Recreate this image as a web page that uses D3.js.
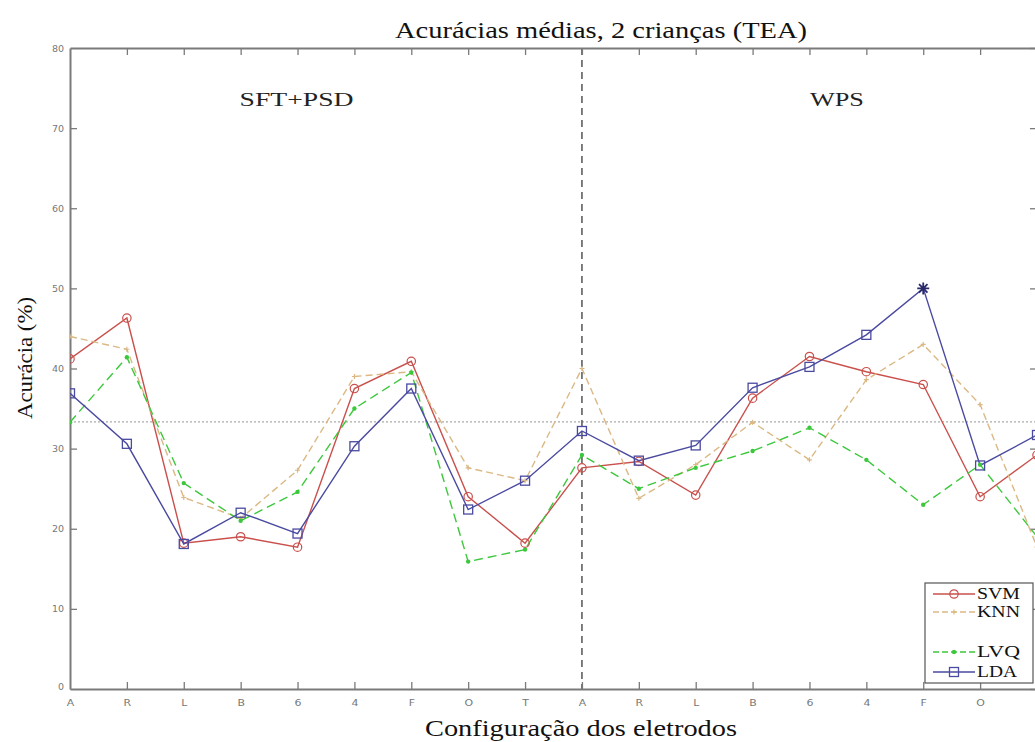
<!DOCTYPE html>
<html>
<head>
<meta charset="utf-8">
<script src="https://cdn.jsdelivr.net/npm/d3@7"></script>
<style>
  html, body { margin: 0; padding: 0; background: #fff; }
  svg { display: block; }
</style>
</head>
<body>
<svg id="chart" width="1035" height="742"></svg>
<script>
// ---- Data ----
const categories = ["A","R","L","B","6","4","F","O","T","A","R","L","B","6","4","F","O","T"];
const svm = [41.2, 46.3, 18.2, 19.0, 17.7, 37.5, 40.9, 24.0, 18.2, 27.6, 28.4, 24.2, 36.3, 41.5, 39.6, 38.0, 24.0, 29.2];
const knn = [44.0, 42.4, 23.9, 21.3, 27.3, 39.0, 39.6, 27.6, 26.0, 40.0, 23.8, 28.0, 33.3, 28.6, 38.6, 43.0, 35.5, 17.7];
const lvq = [33.3, 41.4, 25.7, 21.0, 24.6, 35.0, 39.5, 15.9, 17.4, 29.2, 25.0, 27.6, 29.7, 32.6, 28.6, 23.0, 28.0, 19.0];
const lda = [36.9, 30.6, 18.1, 22.0, 19.4, 30.3, 37.5, 22.4, 26.0, 32.2, 28.5, 30.4, 37.6, 40.2, 44.2, 50.0, 27.9, 31.7];
const yTicks = [0, 10, 20, 30, 40, 50, 60, 70, 80];
const chanceLevel = 33.33;
const dividerIndex = 9;
const groupLabels = [{text: "SFT+PSD", at: 4, len: 114}, {text: "WPS", at: 13.5, len: 54}];
const bestPoint = {series: "LDA", index: 15};

const series = [
  {name: "SVM", values: svm, color: "#c9504c", dash: null, marker: "circle"},
  {name: "KNN", values: knn, color: "#dbb884", dash: "7,4", marker: "plus"},
  {name: "LVQ", values: lvq, color: "#3cc83c", dash: "9,5", marker: "dot"},
  {name: "LDA", values: lda, color: "#4a4aa0", dash: null, marker: "square"}
];

// ---- Layout ----
const W = 1035;
const svg = d3.select("#chart");
const mLeft = 70, mTop = 48, mBottom = 689;
const xRight = 1037; // last category sits just beyond the visible edge
const x = d3.scaleLinear().domain([0, categories.length - 1]).range([mLeft, xRight]);
const y = d3.scaleLinear().domain([0, 80]).range([mBottom, mTop]);

const axisColor = "#7a7a7a";
const serif = "'Liberation Serif', 'DejaVu Serif', serif";
const sans = "'DejaVu Sans', sans-serif";

svg.append("defs").append("clipPath").attr("id", "plotclip")
  .append("rect").attr("x", mLeft).attr("y", mTop - 10).attr("width", xRight - mLeft + 10).attr("height", mBottom - mTop + 20);

// Chance line
svg.append("line")
  .attr("x1", mLeft).attr("x2", xRight)
  .attr("y1", y(chanceLevel)).attr("y2", y(chanceLevel))
  .attr("stroke", "#aaaaaa").attr("stroke-width", 1.2).attr("stroke-dasharray", "2,2");

// Divider
svg.append("line")
  .attr("x1", x(dividerIndex)).attr("x2", x(dividerIndex))
  .attr("y1", mTop).attr("y2", mBottom)
  .attr("stroke", "#555").attr("stroke-width", 1.5).attr("stroke-dasharray", "7,5");

// Axes (frame) with inward ticks
const xAxisB = d3.axisBottom(x).tickValues(d3.range(categories.length))
  .tickFormat(i => categories[i]).tickSizeInner(-7).tickSizeOuter(0).tickPadding(12);
const gxb = svg.append("g").attr("transform", `translate(0,${mBottom})`).call(xAxisB);
const xAxisT = d3.axisTop(x).tickValues(d3.range(categories.length))
  .tickFormat("").tickSizeInner(-7).tickSizeOuter(0);
const gxt = svg.append("g").attr("transform", `translate(0,${mTop})`).call(xAxisT);
const yAxisL = d3.axisLeft(y).tickValues(yTicks).tickSizeInner(-7).tickSizeOuter(0).tickPadding(6);
const gyl = svg.append("g").attr("transform", `translate(${mLeft},0)`).call(yAxisL);
const yAxisR = d3.axisRight(y).tickValues(yTicks).tickFormat("").tickSizeInner(-7).tickSizeOuter(0);
const gyr = svg.append("g").attr("transform", `translate(${xRight},0)`).call(yAxisR);

[gxb, gxt, gyl, gyr].forEach(g => {
  g.select(".domain").attr("stroke", axisColor).attr("stroke-width", 2);
  g.selectAll(".tick line").attr("stroke", axisColor).attr("stroke-width", 1.3);
  g.selectAll(".tick text").attr("fill", "#777").style("font-family", sans).style("font-size", "9.5px")
    .attr("transform", "scale(1.15,1)");
});
gxb.selectAll(".tick").filter(i => i === 0).select("line").remove();
gxt.selectAll(".tick").filter(i => i === 0).select("line").remove();
gyl.selectAll(".tick").filter(v => v === 0 || v === 80).select("line").remove();
// labels of categories that fall outside the visible picture are not shown
gxb.selectAll(".tick").filter(i => x(i) > W - 4).select("text").remove();
gxb.selectAll(".tick text").attr("dy", "0.5em");
gyl.selectAll(".tick").filter(v => v === 0).select("text").attr("dy", "0.1em");
gyl.selectAll(".tick text").attr("transform", null);

// Lines
const plot = svg.append("g").attr("clip-path", "url(#plotclip)");
const line = d3.line().x((d, i) => x(i)).y(d => y(d));

series.forEach(s => {
  plot.append("path").datum(s.values)
    .attr("fill", "none").attr("stroke", s.color).attr("stroke-width", 1.4)
    .attr("stroke-dasharray", s.dash)
    .attr("d", line);
});

function drawMarker(g, type, cx, cy, color) {
  if (type === "circle") {
    g.append("circle").attr("cx", cx).attr("cy", cy).attr("r", 4.2)
      .attr("fill", "none").attr("stroke", color).attr("stroke-width", 1.2);
  } else if (type === "square") {
    g.append("rect").attr("x", cx - 4.5).attr("y", cy - 4.5).attr("width", 9).attr("height", 9)
      .attr("fill", "none").attr("stroke", color).attr("stroke-width", 1.3);
  } else if (type === "dot") {
    g.append("circle").attr("cx", cx).attr("cy", cy).attr("r", 2.2).attr("fill", color);
  } else if (type === "plus") {
    g.append("path").attr("d", `M${cx-2.5},${cy}H${cx+2.5}M${cx},${cy-2.5}V${cy+2.5}`)
      .attr("stroke", color).attr("stroke-width", 1.2);
  }
}

series.forEach(s => {
  s.values.forEach((v, i) => {
    if (s.name === bestPoint.series && i === bestPoint.index) return;
    drawMarker(plot, s.marker, x(i), y(v), s.color);
  });
});

// Star at best point
{
  const s = series.find(d => d.name === bestPoint.series);
  const cx = x(bestPoint.index), cy = y(s.values[bestPoint.index]);
  const r = 6;
  let d = "";
  for (let k = 0; k < 4; k++) {
    const a = k * Math.PI / 4;
    d += `M${cx - r*Math.cos(a)},${cy - r*Math.sin(a)}L${cx + r*Math.cos(a)},${cy + r*Math.sin(a)}`;
  }
  svg.append("path").attr("d", d).attr("stroke", "#2a2a6a").attr("stroke-width", 1.8);
}

// Group labels
groupLabels.forEach(gl => {
  svg.append("text").attr("x", x(gl.at) - 1).attr("y", 106)
    .attr("text-anchor", "middle").style("font-family", serif).style("font-size", "18px")
    .attr("textLength", gl.len).attr("lengthAdjust", "spacingAndGlyphs")
    .attr("fill", "#222").text(gl.text);
});

// Title and axis labels
svg.append("text").attr("x", 601).attr("y", 38).attr("text-anchor", "middle")
  .style("font-family", serif).style("font-size", "24px").attr("fill", "#111")
  .attr("textLength", 412).attr("lengthAdjust", "spacingAndGlyphs")
  .text("Acurácias médias, 2 crianças (TEA)");
svg.append("text").attr("x", 581).attr("y", 736).attr("text-anchor", "middle")
  .style("font-family", serif).style("font-size", "24px").attr("fill", "#111")
  .attr("textLength", 312).attr("lengthAdjust", "spacingAndGlyphs")
  .text("Configuração dos eletrodos");
svg.append("text").attr("transform", "translate(32,358) rotate(-90)").attr("text-anchor", "middle")
  .style("font-family", serif).style("font-size", "21px").attr("fill", "#111")
  .attr("textLength", 122).attr("lengthAdjust", "spacingAndGlyphs")
  .text("Acurácia (%)");

// Legend
const lg = svg.append("g");
lg.append("rect").attr("x", 925).attr("y", 583).attr("width", 108).attr("height", 100)
  .attr("fill", "#fff").attr("stroke", "#555").attr("stroke-width", 1.2);
const legendY = {SVM: 594, KNN: 612, LVQ: 652, LDA: 672};
series.forEach(s => {
  const ly = legendY[s.name];
  lg.append("line").attr("x1", 933).attr("x2", 975).attr("y1", ly).attr("y2", ly)
    .attr("stroke", s.color).attr("stroke-width", 1.4).attr("stroke-dasharray", s.dash ? "6,3" : null);
  drawMarker(lg, s.marker, 954, ly, s.color);
  lg.append("text").attr("x", 977).attr("y", ly + 5)
    .style("font-family", serif).style("font-size", "16px").attr("fill", "#111")
    .attr("textLength", s.name === "LDA" ? 40 : 43).attr("lengthAdjust", "spacingAndGlyphs")
    .text(s.name);
});
</script>
</body>
</html>
